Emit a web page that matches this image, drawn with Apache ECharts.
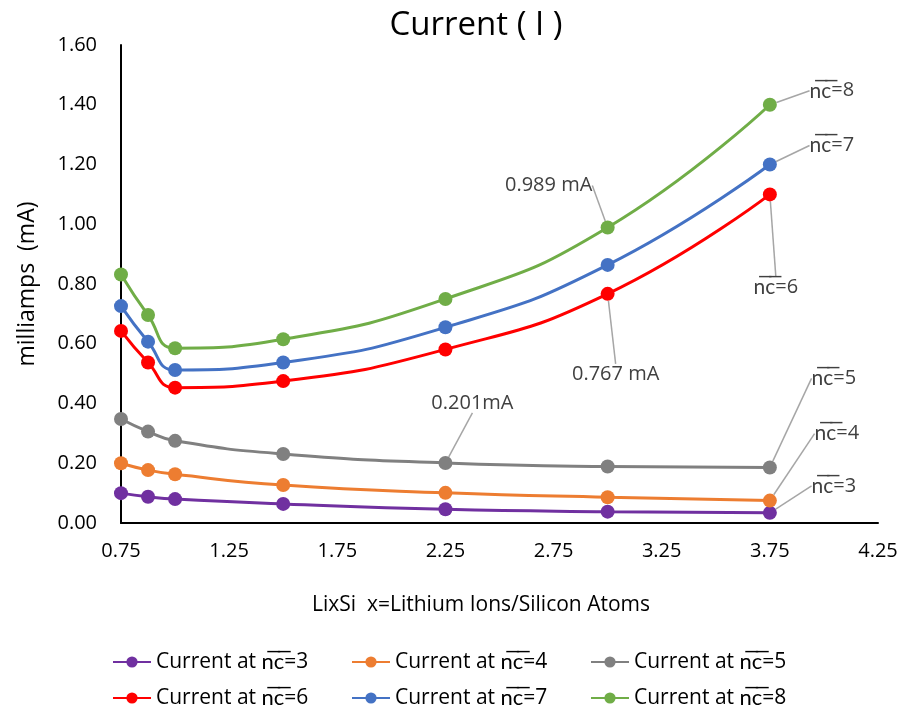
<!DOCTYPE html>
<html><head><meta charset="utf-8">
<script src="https://cdn.jsdelivr.net/npm/echarts@6/dist/echarts.min.js"></script>
<style>html,body{margin:0;padding:0;background:#fff}#c{width:901px;height:711px}</style>
</head><body><div id="c"></div>
<script>
const xValues = [0.75, 0.875, 1.0, 1.5, 2.25, 3.0, 3.75];
const nc3 = [0.100, 0.088, 0.080, 0.064, 0.046, 0.038, 0.034];
const nc4 = [0.200, 0.177, 0.163, 0.127, 0.101, 0.086, 0.075];
const nc5 = [0.348, 0.306, 0.275, 0.231, 0.201, 0.189, 0.186];
const nc6 = [0.643, 0.537, 0.453, 0.475, 0.581, 0.767, 1.100];
const nc7 = [0.726, 0.607, 0.512, 0.537, 0.655, 0.864, 1.200];
const nc8 = [0.832, 0.696, 0.585, 0.615, 0.750, 0.989, 1.400];
const xTickLabels = [0.75, 1.25, 1.75, 2.25, 2.75, 3.25, 3.75, 4.25];
const NC = 'n\u0305c\u0305';
const seriesNames = ['Current at ' + NC + '=3','Current at ' + NC + '=4','Current at ' + NC + '=5','Current at ' + NC + '=6','Current at ' + NC + '=7','Current at ' + NC + '=8'];
const seriesColors = ['#7030A0','#ED7D31','#808080','#FF0000','#4472C4','#70AD47'];
const seriesValues = [nc3, nc4, nc5, nc6, nc7, nc8];
// annotations: [seriesIndex, dataIndex, text, dx, dy]
const annotations = [
  [5, 6, '{n|' + NC + '}{t|=8}', 62, -14],
  [4, 6, '{n|' + NC + '}{t|=7}', 62, -19],
  [3, 6, '{n|' + NC + '}{t|=6}', 6, 93],
  [5, 5, '0.989 mA', -59, -42],
  [3, 5, '0.767 mA', 8, 80],
  [2, 4, '0.201mA', 27, -60],
  [2, 6, '{n|' + NC + '}{t|=5}', 64, -89],
  [1, 6, '{n|' + NC + '}{t|=4}', 67, -67],
  [0, 6, '{n|' + NC + '}{t|=3}', 64, -27]
];
const FONT = '"Open Sans", Lato, sans-serif';
const OVFONT = 'Lato, sans-serif';
function findAnn(s, d){ return annotations.find(a => a[0] === s && a[1] === d); }

const chart = echarts.init(document.getElementById('c'), null, {renderer:'canvas'});
const series = seriesValues.map((vals, si) => ({
  name: seriesNames[si],
  type: 'line',
  smooth: 0.5,
  symbol: 'circle',
  symbolSize: 14,
  lineStyle: {width: 3, color: seriesColors[si]},
  itemStyle: {color: seriesColors[si]},
  data: vals.map((v, di) => {
    const a = findAnn(si, di);
    const item = {value: [xValues[di], v]};
    if (a) {
      item.label = {show: true, position: 'inside', formatter: a[2], color: '#404040', fontSize: 20, fontFamily: FONT,
        rich: {n: {fontSize: 21, color: '#404040', fontFamily: OVFONT}, t: {fontSize: 20, color: '#404040', fontFamily: FONT}}};
      item.labelLine = {show: true, lineStyle: {color: '#A6A6A6', width: 1.5}};
    }
    return item;
  }),
  labelLayout: function (p) {
    const a = findAnn(p.seriesIndex, p.dataIndex);
    if (!a) return {};
    return {dx: a[3], dy: a[4]};
  },
  emphasis: {disabled: true},
  z: 2
}));

chart.setOption({
  animation: false,
  backgroundColor: '#fff',
  title: {text: 'Current ( I )', left: 471, top: 4, textAlign: 'center', textStyle: {fontSize: 33, fontWeight: 'normal', color: '#000', fontFamily: FONT}},
  grid: {left: 121, right: 23, top: 45, bottom: 188, containLabel: false},
  xAxis: {
    type: 'value', min: 0.75, max: 4.25,
    name: 'LixSi  x=Lithium Ions/Silicon Atoms', nameLocation: 'middle', nameGap: 72,
    nameTextStyle: {fontSize: 21, color: '#000', fontFamily: FONT, padding: [0, 37, 0, 0]},
    axisLine: {show: true, onZero: false, lineStyle: {color: '#000', width: 2}},
    axisTick: {show: false},
    splitLine: {show: false},
    axisLabel: {customValues: xTickLabels, formatter: v => v.toFixed(2), fontSize: 20, color: '#000', fontFamily: FONT, margin: 18}
  },
  yAxis: {
    type: 'value', min: 0, max: 1.6, interval: 0.2,
    name: 'milliamps  (mA)', nameLocation: 'middle', nameGap: 82, nameRotate: 90,
    nameTextStyle: {fontSize: 23, color: '#000', fontFamily: FONT},
    axisLine: {show: true, lineStyle: {color: '#000', width: 2}},
    axisTick: {show: false},
    splitLine: {show: false},
    axisLabel: {formatter: v => v.toFixed(2), fontSize: 20, color: '#000', fontFamily: FONT, margin: 24}
  },
  legend: {
    left: 112, top: 650, width: 760, padding: 0, itemGap: 12, itemWidth: 38, itemHeight: 14,
    data: seriesNames,
    formatter: name => name.replace(NC, '{o|' + NC + '}'),
    textStyle: {fontSize: 21, color: '#000', fontFamily: FONT, width: 183, lineHeight: 24,
      rich: {o: {fontSize: 22, color: '#000', fontFamily: OVFONT}}}
  },
  series: series
});
</script></body></html>
